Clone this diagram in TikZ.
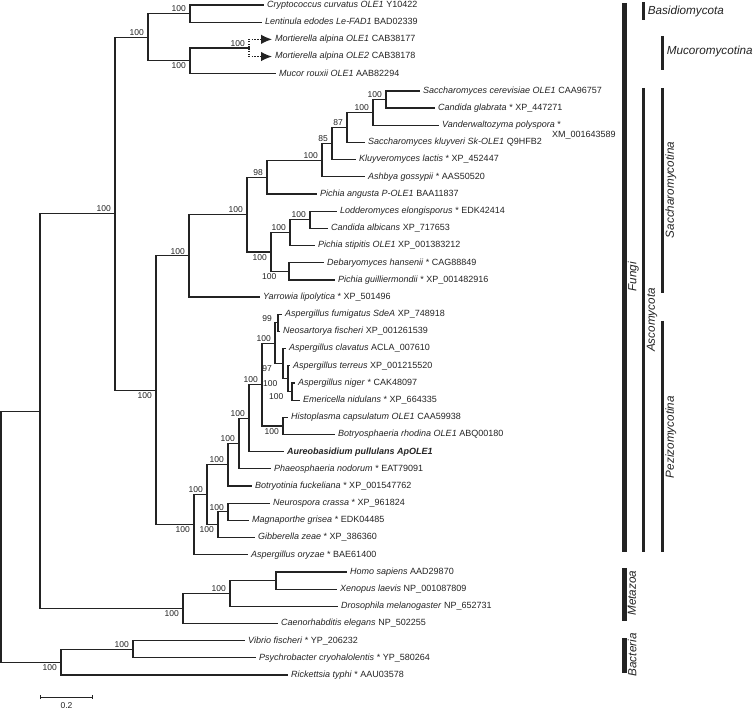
\documentclass[tikz,border=0pt]{standalone}
\usepackage{fontspec}
\setmainfont{Liberation Sans}
\usetikzlibrary{arrows.meta}
\definecolor{treeline}{RGB}{35,35,35}

\begin{document}
\begin{tikzpicture}[x=1pt,y=-17.18pt,
  branch/.style={treeline,line width=1.25pt},
  leaf/.style={anchor=west,inner xsep=3pt,inner ysep=1pt,text height=6.6pt,text depth=1.9pt,
    text=treeline,font=\fontsize{9}{10}\selectfont},
  bsa/.style={anchor=south east,inner sep=0.5pt,xshift=-3.5pt,yshift=1pt,text=treeline,
    font=\fontsize{8.5}{9}\selectfont},
  bsb/.style={anchor=north east,inner sep=0.5pt,xshift=-3.5pt,yshift=-1.5pt,text=treeline,
    font=\fontsize{8.5}{9}\selectfont},
  cladebar/.style={treeline,line width=#1},
  clade/.style={inner sep=0.3pt,text=treeline,font=\fontsize{11.7}{13}\selectfont\itshape}]
\useasboundingbox (0,-0.291) rectangle (754,40.978);

% internal nodes
\coordinate (nRoot) at (1,30.94);
\coordinate (nOpist) at (40,23.64);
\coordinate (nFungi) at (115,12.15);
\coordinate (nBM) at (148,1.875);
\coordinate (nBasid) at (190,0.5);
\coordinate (nMucoro) at (190,3.25);
\coordinate (nMort) at (249,2.5);
\coordinate (nAsco) at (156,22.43);
\coordinate (nSaccha) at (189,14.6);
\coordinate (nYeast) at (247,12.195);
\coordinate (nSaccCore) at (267,10.02);
\coordinate (nAshb) at (322,9.03);
\coordinate (nKlac) at (332,8.06);
\coordinate (nSklu) at (347,7.125);
\coordinate (nVand) at (373,6.25);
\coordinate (nSC) at (386,5.5);
\coordinate (nCTG) at (271,14.375);
\coordinate (nLCP) at (290,13.25);
\coordinate (nLC) at (310,12.5);
\coordinate (nDP) at (289,15.5);
\coordinate (nPezi) at (194,30.25);
\coordinate (nLeot) at (207,28.5);
\coordinate (nBot) at (228,26.76);
\coordinate (nPha) at (239,25.52);
\coordinate (nAur) at (249,24.05);
\coordinate (nEur) at (262,22.09);
\coordinate (nAsp) at (275,19.69);
\coordinate (nFN) at (278,18.5);
\coordinate (nA2) at (283,20.875);
\coordinate (nA3) at (288,21.75);
\coordinate (nA4) at (292,22.5);
\coordinate (nHB) at (283,24.5);
\coordinate (nSord) at (218,30.25);
\coordinate (nNM) at (228,29.5);
\coordinate (nMeta) at (183,35.125);
\coordinate (nHXD) at (230,34.25);
\coordinate (nHX) at (276,33.5);
\coordinate (nBact) at (61,38.25);
\coordinate (nVP) at (133,37.5);

% leaves
\node[leaf] (crypto) at (264,0) {\textit{Cryptococcus curvatus OLE1} Y10422};
\node[leaf] (lenti) at (262,1) {\textit{Lentinula edodes Le-FAD1} BAD02339};
\node[leaf] (mort1) at (272,2) {\textit{Mortierella alpina OLE1} CAB38177};
\node[leaf] (mort2) at (272,3) {\textit{Mortierella alpina OLE2} CAB38178};
\node[leaf] (mucor) at (276,4) {\textit{Mucor rouxii OLE1} AAB82294};
\node[leaf] (scer) at (420,5) {\textit{Saccharomyces cerevisiae OLE1} CAA96757};
\node[leaf] (cglab) at (435,6) {\textit{Candida glabrata} * XP\_447271};
\node[leaf] (vand) at (439,7) {\textit{Vanderwaltozyma polyspora} *};
\node[leaf] (sklu) at (365,8) {\textit{Saccharomyces kluyveri Sk-OLE1} Q9HFB2};
\node[leaf] (klac) at (356,9) {\textit{Kluyveromyces lactis} * XP\_452447};
\node[leaf] (ashb) at (365,10) {\textit{Ashbya gossypii} * AAS50520};
\node[leaf] (pang) at (317,11) {\textit{Pichia angusta P-OLE1} BAA11837};
\node[leaf] (lodd) at (337,12) {\textit{Lodderomyces elongisporus} * EDK42414};
\node[leaf] (calb) at (328,13) {\textit{Candida albicans} XP\_717653};
\node[leaf] (pstip) at (315,14) {\textit{Pichia stipitis OLE1} XP\_001383212};
\node[leaf] (deb) at (324,15) {\textit{Debaryomyces hansenii} * CAG88849};
\node[leaf] (pguil) at (335,16) {\textit{Pichia guilliermondii} * XP\_001482916};
\node[leaf] (yarr) at (260,17) {\textit{Yarrowia lipolytica} * XP\_501496};
\node[leaf] (afum) at (282,18) {\textit{Aspergillus fumigatus SdeA} XP\_748918};
\node[leaf] (neos) at (280,19) {\textit{Neosartorya fischeri} XP\_001261539};
\node[leaf] (aclav) at (286,20) {\textit{Aspergillus clavatus} ACLA\_007610};
\node[leaf] (aterr) at (290,21) {\textit{Aspergillus terreus} XP\_001215520};
\node[leaf] (anig) at (295,22) {\textit{Aspergillus niger} * CAK48097};
\node[leaf] (emer) at (300,23) {\textit{Emericella nidulans} * XP\_664335};
\node[leaf] (histo) at (288,24) {\textit{Histoplasma capsulatum OLE1} CAA59938};
\node[leaf] (botryo) at (335,25) {\textit{Botryosphaeria rhodina OLE1} ABQ00180};
\node[leaf] (aureo) at (284,26) {\textbf{\textit{Aureobasidium pullulans ApOLE1}}};
\node[leaf] (phaeo) at (271,27) {\textit{Phaeosphaeria nodorum} * EAT79091};
\node[leaf] (botryt) at (252,28) {\textit{Botryotinia fuckeliana} * XP\_001547762};
\node[leaf] (neuro) at (270,29) {\textit{Neurospora crassa} * XP\_961824};
\node[leaf] (magna) at (249,30) {\textit{Magnaporthe grisea} * EDK04485};
\node[leaf] (gibb) at (255,31) {\textit{Gibberella zeae} * XP\_386360};
\node[leaf] (aoryz) at (248,32) {\textit{Aspergillus oryzae} * BAE61400};
\node[leaf] (homo) at (347,33) {\textit{Homo sapiens} AAD29870};
\node[leaf] (xeno) at (337,34) {\textit{Xenopus laevis} NP\_001087809};
\node[leaf] (droso) at (338,35) {\textit{Drosophila melanogaster} NP\_652731};
\node[leaf] (caeno) at (278,36) {\textit{Caenorhabditis elegans} NP\_502255};
\node[leaf] (vibrio) at (245,37) {\textit{Vibrio fischeri} * YP\_206232};
\node[leaf] (psych) at (256,38) {\textit{Psychrobacter cryohalolentis} * YP\_580264};
\node[leaf] (rick) at (288,39) {\textit{Rickettsia typhi} * AAU03578};
\node[leaf,inner xsep=0.5pt] (vandxm) at (551.5,7.6) {XM\_001643589};

% branches
\foreach \p/\c in {nRoot/nOpist,nRoot/nBact,nOpist/nFungi,nOpist/nMeta,
    nFungi/nBM,nFungi/nAsco,nBM/nBasid,nBM/nMucoro,nBasid/crypto.west,nBasid/lenti.west,
    nMucoro/nMort,nMucoro/mucor.west,nAsco/nSaccha,nAsco/nPezi,
    nSaccha/nYeast,nSaccha/yarr.west,nYeast/nSaccCore,nYeast/nCTG,
    nSaccCore/nAshb,nSaccCore/pang.west,nAshb/nKlac,nAshb/ashb.west,
    nKlac/nSklu,nKlac/klac.west,nSklu/nVand,nSklu/sklu.west,
    nVand/nSC,nVand/vand.west,nSC/scer.west,nSC/cglab.west,
    nCTG/nLCP,nCTG/nDP,nLCP/nLC,nLCP/pstip.west,nLC/lodd.west,nLC/calb.west,
    nDP/deb.west,nDP/pguil.west,
    nPezi/nLeot,nPezi/aoryz.west,nLeot/nBot,nLeot/nSord,
    nBot/nPha,nBot/botryt.west,nPha/nAur,nPha/phaeo.west,nAur/nEur,nAur/aureo.west,
    nEur/nAsp,nEur/nHB,nAsp/nFN,nAsp/nA2,nFN/afum.west,nFN/neos.west,
    nA2/aclav.west,nA2/nA3,nA3/aterr.west,nA3/nA4,nA4/anig.west,nA4/emer.west,
    nHB/histo.west,nHB/botryo.west,nSord/nNM,nSord/gibb.west,
    nNM/neuro.west,nNM/magna.west,
    nMeta/nHXD,nMeta/caeno.west,nHXD/nHX,nHXD/droso.west,nHX/homo.west,nHX/xeno.west,
    nBact/nVP,nBact/rick.west,nVP/vibrio.west,nVP/psych.west}
  \draw[branch] (\p) |- (\c);
\draw[branch,dash pattern=on 1.6pt off 1.2pt,-{Latex[length=11pt,width=9.5pt]}] (nMort) |- (mort1.west);
\draw[branch,dash pattern=on 1.6pt off 1.2pt,-{Latex[length=11pt,width=9.5pt]}] (nMort) |- (mort2.west);

% bootstrap values
\node[bsa] (bFungi) at (nFungi) {100};
\node[bsa] (bBM) at (nBM) {100};
\node[bsa] (bBasid) at (nBasid) {100};
\node[bsb] (bMucoro) at (nMucoro) {100};
\node[bsa] (bMort) at (nMort) {100};
\node[bsa] (bSC) at (nSC) {100};
\node[bsa] (bVand) at (nVand) {100};
\node[bsa] (bSklu) at (nSklu) {87};
\node[bsa] (bKlac) at (nKlac) {85};
\node[bsa] (bAshb) at (nAshb) {100};
\node[bsa] (bSaccCore) at (nSaccCore) {98};
\node[bsa] (bLC) at (nLC) {100};
\node[bsa] (bLCP) at (nLCP) {100};
\node[bsb] (bCTG) at (nCTG) {100};
\node[bsb,xshift=-8.5pt] (bDP) at (nDP) {100};
\node[bsa] (bYeast) at (nYeast) {100};
\node[bsa] (bSaccha) at (nSaccha) {100};
\node[bsb] (bAsco) at (nAsco) {100};
\node[bsa,xshift=-2pt] (bFN) at (nFN) {99};
\node[bsa] (bAsp) at (nAsp) {100};
\node[bsb,xshift=-7pt] (bA2) at (nA2) {97};
\node[bsb,xshift=-6.5pt] (bA3) at (nA3) {100};
\node[bsb,xshift=-4.5pt] (bA4) at (nA4) {100};
\node[bsb] (bHB) at (nHB) {100};
\node[bsa] (bEur) at (nEur) {100};
\node[bsa] (bAur) at (nAur) {100};
\node[bsa] (bPha) at (nPha) {100};
\node[bsa] (bBot) at (nBot) {100};
\node[bsa] (bLeot) at (nLeot) {100};
\node[bsa] (bNM) at (nNM) {100};
\node[bsb] (bSord) at (nSord) {100};
\node[bsb] (bPezi) at (nPezi) {100};
\node[bsa] (bHXD) at (nHXD) {100};
\node[bsb] (bMeta) at (nMeta) {100};
\node[bsa] (bVP) at (nVP) {100};
\node[bsb] (bBact) at (nBact) {100};

% clade bars
\draw[cladebar=5pt] (624.5,-0.12) -- (624.5,31.84);
\draw[cladebar=3.5pt] (643.5,-0.17) -- (643.5,0.87);
\draw[cladebar=2.5pt] (662.5,1.80) -- (662.5,3.78);
\draw[cladebar=3.3pt] (643.5,4.83) -- (643.5,31.84);
\draw[cladebar=2.3pt] (662.5,4.83) -- (662.5,16.76);
\draw[cladebar=2.3pt] (662.5,18.39) -- (662.5,31.84);
\draw[cladebar=5pt] (624.5,32.77) -- (624.5,35.86);
\draw[cladebar=5pt] (624.5,36.85) -- (624.5,38.88);
\node[clade,anchor=west] (basidio) at (647.3,0.38) {Basidiomycota};
\node[clade,anchor=west] (mucoro) at (666.3,2.68) {Mucoromycotina};
\node[clade,rotate=90,anchor=north] (fungi) at (627.3,15.83) {Fungi};
\node[clade,rotate=90,anchor=north] (asco) at (646.3,18.34) {Ascomycota};
\node[clade,rotate=90,anchor=north] (saccha) at (665,10.77) {Saccharomycotina};
\node[clade,rotate=90,anchor=north] (pezi) at (665,25.15) {Pezizomycotina};
\node[clade,rotate=90,anchor=north] (metazoa) at (627.3,34.23) {Metazoa};
\node[clade,rotate=90,anchor=north] (bacteria) at (627.3,37.83) {Bacteria};

% scale bar
\coordinate (sbl) at (40,40.28);
\coordinate (sbr) at (93,40.28);
\draw[treeline,line width=0.8pt,{Bar[width=4pt]}-{Bar[width=4pt]}] (sbl) -- (sbr);
\node[text=treeline,font=\fontsize{8.5}{9}\selectfont,inner sep=0.5pt] (sblab) at (66.5,40.75) {0.2};
\end{tikzpicture}
\end{document}
